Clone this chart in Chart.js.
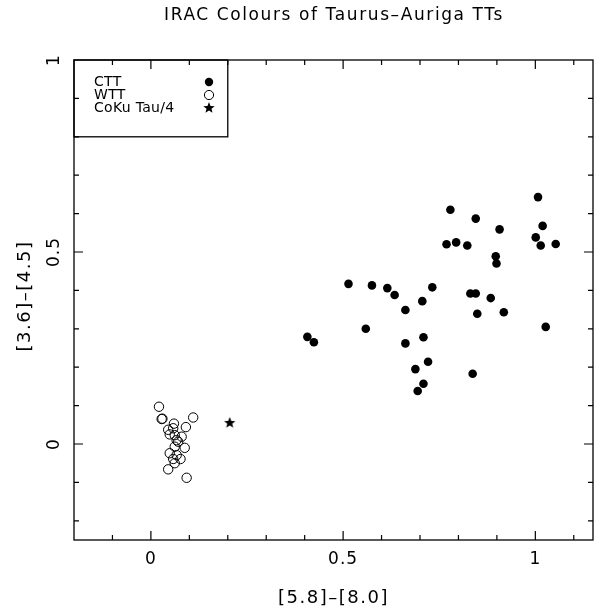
<!DOCTYPE html>
<html>
<head>
<meta charset="utf-8">
<script src="https://cdn.jsdelivr.net/npm/chart.js@4"></script>
<style>
  html, body { margin: 0; padding: 0; background: #fff; }
  canvas { display: block; }
</style>
</head>
<body>
<canvas id="chart" width="603" height="612"></canvas>
<script>
// CTT (filled circles)
const cttX = [1.007, 0.779, 0.845, 0.907, 1.019, 1.001, 1.014, 1.053, 0.769, 0.794, 0.823, 0.897,
  0.899, 0.514, 0.575, 0.615, 0.634, 0.732, 0.706, 0.662, 0.831, 0.845, 0.884, 0.849, 0.918,
  1.027, 0.559, 0.407, 0.424, 0.662, 0.709, 0.721, 0.688, 0.837, 0.709, 0.694];
const cttY = [0.643, 0.610, 0.587, 0.559, 0.568, 0.538, 0.517, 0.521, 0.520, 0.525, 0.517, 0.489,
  0.470, 0.417, 0.413, 0.406, 0.388, 0.408, 0.372, 0.349, 0.392, 0.392, 0.380, 0.339, 0.343,
  0.305, 0.300, 0.279, 0.265, 0.262, 0.278, 0.214, 0.195, 0.183, 0.157, 0.138];

// WTT (open circles)
const wttX = [0.021, 0.028, 0.030, 0.060, 0.110, 0.091, 0.045, 0.058, 0.049, 0.062, 0.080,
  0.067, 0.071, 0.062, 0.088, 0.049, 0.067, 0.058, 0.077, 0.062, 0.045, 0.093];
const wttY = [0.097, 0.065, 0.066, 0.053, 0.069, 0.044, 0.037, 0.041, 0.025, 0.023, 0.019,
  0.010, 0.006, -0.007, -0.010, -0.024, -0.029, -0.039, -0.039, -0.050, -0.066, -0.088];

// CoKu Tau/4
const cokuX = [0.205];
const cokuY = [0.055];

const xTicks = [0, 0.5, 1];
const yTicks = [0, 0.5, 1];
const xLabels = ["0", "0.5", "1"];
const yLabels = ["0", "0.5", "1"];

const FONT = '"DejaVu Sans", sans-serif';

function toPoints(xs, ys) {
  return xs.map((x, i) => ({x: x, y: ys[i]}));
}

function makeStar(outer, inner) {
  const c = document.createElement("canvas");
  const s = Math.ceil(outer * 2 + 2);
  c.width = s; c.height = s;
  const g = c.getContext("2d");
  g.fillStyle = "#000";
  g.beginPath();
  for (let i = 0; i < 10; i++) {
    const r = i % 2 === 0 ? outer : inner;
    const a = -Math.PI / 2 + i * Math.PI / 5;
    const px = s / 2 + r * Math.cos(a), py = s / 2 + r * Math.sin(a);
    if (i === 0) g.moveTo(px, py); else g.lineTo(px, py);
  }
  g.closePath();
  g.fill();
  return c;
}
const starImg = makeStar(6, 2.6);

function spaced(ctx, sp) {
  if ("letterSpacing" in ctx) ctx.letterSpacing = sp + "px";
}

const framePlugin = {
  id: "frame",
  afterDraw(chart) {
    const ctx = chart.ctx;
    const a = chart.chartArea;
    const xs = chart.scales.x, ys = chart.scales.y;
    ctx.save();
    ctx.strokeStyle = "#000";
    ctx.lineWidth = 1.3;
    ctx.strokeRect(a.left, a.top, a.right - a.left, a.bottom - a.top);

    // ticks, every 0.1, major ones longer, on all four sides
    ctx.lineWidth = 1.2;
    ctx.beginPath();
    for (let k = -2; k <= 11; k++) {
      const v = k / 10;
      const len = (k % 5 === 0) ? 9 : 5;
      const px = xs.getPixelForValue(v);
      if (px > a.left + 1 && px < a.right - 1) {
        ctx.moveTo(px, a.bottom); ctx.lineTo(px, a.bottom - len);
        ctx.moveTo(px, a.top); ctx.lineTo(px, a.top + len);
      }
    }
    for (let k = -2; k <= 10; k++) {
      const v = k / 10;
      const len = (k % 5 === 0) ? 9 : 5;
      const py = ys.getPixelForValue(v);
      if (py > a.top + 1 && py < a.bottom - 1) {
        ctx.moveTo(a.left, py); ctx.lineTo(a.left + len, py);
        ctx.moveTo(a.right, py); ctx.lineTo(a.right - len, py);
      }
    }
    ctx.stroke();

    ctx.fillStyle = "#000";
    ctx.textAlign = "center";
    ctx.textBaseline = "middle";

    // x tick labels
    ctx.font = "17px " + FONT;
    spaced(ctx, 1);
    xTicks.forEach((v, i) => {
      ctx.fillText(xLabels[i], xs.getPixelForValue(v), 560);
    });
    // y tick labels, rotated
    yTicks.forEach((v, i) => {
      ctx.save();
      ctx.translate(55, ys.getPixelForValue(v));
      ctx.rotate(-Math.PI / 2);
      ctx.fillText(yLabels[i], 0, 0);
      ctx.restore();
    });

    // axis titles
    ctx.font = "18px " + FONT;
    spaced(ctx, 1.5);
    ctx.fillText("[5.8]–[8.0]", (a.left + a.right) / 2, 598);
    ctx.save();
    ctx.translate(25, 296);
    ctx.rotate(-Math.PI / 2);
    ctx.fillText("[3.6]–[4.5]", 0, 0);
    ctx.restore();

    // title
    ctx.font = "17px " + FONT;
    spaced(ctx, 1.6);
    ctx.fillText("IRAC Colours of Taurus–Auriga TTs", 334, 16);

    // legend box
    const lx0 = a.left, ly0 = a.top;
    const lx1 = xs.getPixelForValue(0.2), ly1 = ys.getPixelForValue(0.8);
    ctx.lineWidth = 1.3;
    ctx.strokeRect(lx0, ly0, lx1 - lx0, ly1 - ly0);
    ctx.font = "14px " + FONT;
    spaced(ctx, 0.3);
    ctx.textAlign = "left";
    const rows = ["CTT", "WTT", "CoKu Tau/4"];
    const rowY = [82, 95, 108];
    rows.forEach((t, i) => ctx.fillText(t, 94, rowY[i]));
    const sx = 209;
    ctx.beginPath();
    ctx.arc(sx, rowY[0], 4.2, 0, Math.PI * 2);
    ctx.fill();
    ctx.lineWidth = 1;
    ctx.beginPath();
    ctx.arc(sx, rowY[1], 4.6, 0, Math.PI * 2);
    ctx.stroke();
    ctx.drawImage(starImg, sx - starImg.width / 2, rowY[2] - starImg.height / 2);
    ctx.restore();
  }
};

new Chart(document.getElementById("chart"), {
  type: "scatter",
  data: {
    datasets: [
      {
        label: "CTT",
        data: toPoints(cttX, cttY),
        pointStyle: "circle",
        pointRadius: 4.3,
        backgroundColor: "#000",
        borderColor: "#000",
        borderWidth: 0
      },
      {
        label: "WTT",
        data: toPoints(wttX, wttY),
        pointStyle: "circle",
        pointRadius: 4.7,
        backgroundColor: "rgba(0,0,0,0)",
        borderColor: "#000",
        borderWidth: 1
      },
      {
        label: "CoKu Tau/4",
        data: toPoints(cokuX, cokuY),
        pointStyle: starImg,
        pointRadius: 6
      }
    ]
  },
  options: {
    responsive: false,
    animation: false,
    layout: { padding: { left: 74, right: 10, top: 60, bottom: 72 } },
    plugins: { legend: { display: false }, title: { display: false }, tooltip: { enabled: false } },
    scales: {
      x: { type: "linear", min: -0.2, max: 1.15, display: false },
      y: { type: "linear", min: -0.25, max: 1, display: false }
    }
  },
  plugins: [framePlugin]
});
</script>
</body>
</html>
